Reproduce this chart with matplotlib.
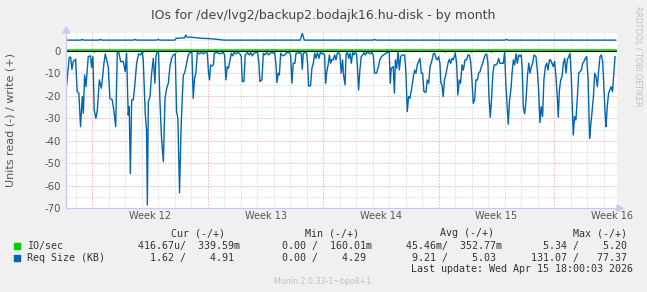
import matplotlib
matplotlib.use('Agg')
import matplotlib.pyplot as plt
from matplotlib.patches import Rectangle, Polygon

plt.rcParams['axes.unicode_minus'] = False

# x in days since the start of week 12 (Monday 00:00)
read_day = [
    -1.55, -1.39, -1.31, -1.23, -1.15, -1.01, -0.91, -0.81, -0.71, -0.60,
    -0.54, -0.46, -0.38, -0.24, -0.10, -0.04, 0.04, 0.12, 0.22, 0.31,
    0.43, 0.55, 0.63, 0.71, 0.79, 0.87, 0.97, 1.07, 1.21, 1.32,
    1.42, 1.52, 1.60, 1.72, 1.88, 2.00, 2.08, 2.18, 2.24, 2.31,
    2.39, 2.49, 2.59, 2.69, 2.81, 2.93, 3.03, 3.09, 3.21, 3.29,
    3.34, 3.40, 3.50, 3.60, 3.70, 3.80, 3.86, 3.94, 4.02, 4.10,
    4.20, 4.31, 4.41, 4.51, 4.61, 4.71, 4.81, 4.91,
    5.03, 5.11, 5.19, 5.29, 5.38, 5.46, 5.52, 5.60, 5.72, 5.82,
    5.92, 6.04, 6.12, 6.20, 6.28, 6.37, 6.49, 6.63, 6.73, 6.81,
    6.89, 6.97, 7.05, 7.11, 7.17, 7.25, 7.34, 7.40, 7.54, 7.74,
    7.94, 8.02, 8.10, 8.18, 8.26, 8.35, 8.43, 8.51, 8.61, 8.71,
    8.83, 8.95, 9.03, 9.09, 9.19, 9.27, 9.40, 9.52, 9.60, 9.70,
    9.80, 9.92, 10.02, 10.10, 10.16, 10.28, 10.37, 10.47, 10.57, 10.69,
    10.77, 10.87, 10.97, 11.05, 11.13, 11.19, 11.27, 11.34, 11.42, 11.54,
    11.68,
    11.78, 11.94, 12.02, 12.10, 12.18, 12.28, 12.35, 12.49, 12.59, 12.67,
    12.73, 12.79, 12.89, 12.99, 13.05, 13.11, 13.23, 13.31, 13.40, 13.48,
    13.56, 13.64, 13.74, 13.82, 13.92, 14.00, 14.08, 14.14, 14.20, 14.31,
    14.37, 14.45, 14.53, 14.61, 14.69, 14.77, 14.85, 14.93, 15.01, 15.09,
    15.17, 15.23, 15.32, 15.38, 15.46, 15.54, 15.62, 15.70, 15.78, 15.86,
    15.94, 16.02, 16.08, 16.14, 16.22, 16.30, 16.39, 16.47, 16.55, 16.63,
    16.73, 16.83, 16.95, 17.03, 17.11, 17.23, 17.34, 17.44, 17.54, 17.64,
    17.76, 17.88, 18.00, 18.06, 18.12, 18.24, 18.31,
    18.37, 18.45, 18.53, 18.61, 18.69, 18.79, 18.93, 19.01, 19.09, 19.17,
    19.25, 19.36, 19.46, 19.54, 19.62, 19.70, 19.78, 19.86, 19.94, 20.02,
    20.10, 20.22, 20.30, 20.39, 20.47, 20.57, 20.67, 20.75, 20.83, 20.91,
    20.99, 21.07, 21.13, 21.19, 21.27, 21.34, 21.40, 21.48, 21.56, 21.64,
    21.72, 21.80, 21.88, 22.00, 22.08, 22.16, 22.24, 22.32, 22.41, 22.49,
    22.59, 22.69, 22.77, 22.85, 22.93, 23.01, 23.09, 23.17, 23.25, 23.34,
    23.42, 23.50, 23.58, 23.66, 23.74, 23.82, 23.90, 23.98, 24.04, 24.12,
    24.20, 24.28, 24.36, 24.47, 24.55, 24.63, 24.71, 24.91,
    24.99, 25.07, 25.15, 25.21, 25.29, 25.38, 25.44, 25.52, 25.60, 25.68,
    25.76, 25.84, 25.92, 26.00, 26.06, 26.12, 26.20, 26.28, 26.37, 26.45,
    26.53, 26.61, 26.69, 26.77, 26.89, 26.97, 27.05, 27.13, 27.21, 27.29,
    27.37, 27.46, 27.54, 27.62, 27.70, 27.78, 27.86, 27.94, 28.02, 28.10,
    28.18, 28.24, 28.31, 28.39, 28.47, 28.55, 28.63, 28.71, 28.79, 28.87,
    28.95, 29.03, 29.09, 29.15, 29.23, 29.31, 29.40, 29.48, 29.56, 29.64,
    29.72, 29.80, 29.88, 29.96, 30.05, 30.10, 30.14, 30.20, 30.28, 30.37,
    30.45, 30.53, 30.61, 30.69, 30.77, 30.85, 30.93, 31.01, 31.09, 31.13,
    31.21, 31.29, 31.37, 31.45, 31.53, 31.62, 31.68,
]
# Req Size read (drawn negative), KB
read_kb = [
    -15.0, -2.8, -2.8, -8.2, -4.7, -3.7, -18.1, -18.8, -33.7, -20.3,
    -27.7, -10.7, -15.9, -2.5, -2.2, -7.3, -2.5, -26.3, -30.0, -26.3,
    -12.9, -16.6, -11.4, -5.5, -1.3, -4.0, -7.0, -21.1, -21.8, -27.0,
    -33.7, -0.7, -0.3, -4.7, -4.7, -9.2, -1.0, -28.5, -24.8, -54.5,
    -21.8, -21.8, -14.4, -5.5, -1.3, -1.8, -0.3, -4.0, -27.7, -35.2,
    -68.5, -22.6, -20.3, -9.9, -3.3, -14.4, -2.5, -0.3, -1.0, -21.8,
    -38.9, -49.3, -21.1, -16.6, -14.4, -7.0, -3.3, -1.8,
    -1.3, -27.0, -30.0, -63.1, -35.2, -20.3, -10.7, -9.9, -5.5, -1.8,
    -0.7, -0.7, -21.1, -12.2, -9.9, -0.7, -1.3, -0.7, -1.3, -1.0,
    -0.3, -1.0, -9.9, -12.9, -6.2, -6.7, -6.2, -1.0, -0.7, -1.3,
    -0.7, -1.8, -12.9, -7.0, -7.7, -4.0, -1.0, -2.2, -0.7, -1.3,
    -0.7, -1.3, -2.5, -13.6, -13.6, -1.8, -0.7, -1.8, -0.7, -2.2,
    -1.0, -0.7, -0.7, -5.5, -13.6, -12.9, -1.0, -1.8, -0.7, -1.8,
    -1.0, -0.7, -1.0, -0.7, -5.5, -14.1, -9.9, -10.7, -1.0, -2.2,
    -1.8,
    -0.7, -0.7, -1.8, -14.4, -5.5, -5.5, -1.0, -1.0, -0.7, -1.3,
    -8.2, -1.0, -0.7, -1.0, -5.5, -15.6, -15.6, -7.7, -5.5, -1.0,
    -3.3, -0.7, -3.3, -0.7, -1.3, -1.0, -1.8, -14.4, -9.9, -5.5,
    -1.8, -5.5, -3.7, -4.0, -1.8, -4.0, -1.0, -0.7, -1.8, -9.9,
    -4.0, -10.7, -15.1, -1.3, -0.7, -3.3, -1.0, -5.5, -0.7, -1.8,
    -0.7, -1.3, -8.5, -17.4, -8.5, -2.5, -1.8, -0.7, -1.8, -0.7,
    -0.7, -1.3, -0.7, -1.8, -9.9, -9.9, -7.0, -3.7, -2.5, -1.8,
    -1.3, -0.7, -0.7, -14.4, -7.7, -7.0, -18.8,
    -4.0, -7.7, -0.3, -8.5, -2.5, -1.8, -1.8, -9.9, -27.0, -20.3,
    -21.1, -16.6, -11.4, -8.5, -9.9, -6.2, -4.7, -3.3, -9.9, -9.9,
    -18.1, -18.5, -12.9, -14.4, -7.0, -4.7, -1.3, -1.0, -3.3, -4.0,
    -2.5, -5.5, -14.4, -15.1, -20.3, -12.9, -11.4, -8.5, -5.5, -3.7,
    -5.5, -3.3, -4.0, -1.0, -5.5, -19.6, -12.9, -14.4, -6.2, -8.5,
    -4.0, -4.0, -1.8, -1.8, -4.7, -12.9, -23.3, -21.8, -12.9, -12.9,
    -9.9, -9.2, -7.0, -5.5, -3.3, -1.8, -1.3, -5.5, -20.3, -29.5,
    -21.1, -9.9, -6.2, -6.2, -5.5, -3.3, -5.5, -5.5,
    -0.7, -15.9, -25.5, -32.6, -21.8, -16.6, -9.9, -4.0, -6.2, -1.3,
    -5.5, -1.8, -2.5, -1.8, -8.5, -24.8, -28.0, -22.6, -11.4, -5.5,
    -9.9, -7.0, -5.5, -1.8, -2.5, -8.5, -17.4, -31.9, -24.8, -29.2,
    -12.9, -7.0, -5.5, -8.5, -4.0, -4.0, -5.5, -7.0, -4.7, -11.4,
    -20.3, -29.5, -17.4, -12.9, -11.4, -5.5, -3.3, -9.9, -3.7, -2.8,
    -1.0, -11.4, -24.8, -37.4, -29.2, -30.7, -20.3, -9.9, -9.2, -8.5,
    -5.5, -4.7, -3.3, -2.5, -12.9, -27.7, -38.9, -33.7, -27.7, -20.3,
    -9.9, -11.4, -15.9, -8.5, -2.5, -1.8, -4.7, -17.4, -29.2, -33.7,
    -24.8, -18.8, -17.4, -15.9, -18.1, -8.5, -2.5,
]

# Req Size write (positive), KB
write_day = [-1.6, -0.7, -0.6, -0.5, 0.4, 0.5, 0.6, 2.5, 2.6, 2.7, 3.9, 4.0, 4.1,
             5.0, 5.1, 5.6, 5.66, 5.75, 6.0, 6.6, 7.0, 7.5, 8.0, 12.6, 12.73, 12.85,
             17.0, 17.1, 17.2, 25.0, 25.1, 25.2, 31.72]
write_kb = [4.8, 4.8, 5.1, 4.8, 4.8, 5.1, 4.8, 4.8, 5.1, 4.8, 4.8, 5.1, 4.8,
            4.8, 5.6, 5.8, 7.1, 6.1, 6.1, 5.6, 5.5, 5.2, 4.8, 4.8, 7.8, 4.8,
            4.8, 5.1, 4.8, 4.8, 5.1, 4.8, 4.8]

# IO/sec, read (negative) and write
io_day = [-1.6, 0.08, 0.12, 0.16, 3.05, 3.09, 3.13, 5.06, 5.10, 5.14,
          21.36, 21.40, 21.44, 21.96, 22.00, 22.04, 22.96, 23.00, 23.04,
          24.16, 24.20, 24.24, 31.72]
io_read = [-0.05, -0.05, -0.6, -0.05, -0.05, -0.6, -0.05, -0.05, -0.6, -0.05,
           -0.05, -0.6, -0.05, -0.05, -0.6, -0.05, -0.05, -0.6, -0.05,
           -0.05, -0.6, -0.05, -0.05]
io_write_day = [-1.6, 31.72]
io_write = [0.35, 0.35]

week_labels = ['Week 12', 'Week 13', 'Week 14', 'Week 15', 'Week 16']
week_mid = [3.5, 10.5, 17.5, 24.5, 31.5]
week_start = [0, 7, 14, 21, 28]

legend_rows = ['IO/sec', 'Req Size (KB)']
legend_colors = ['#00cc00', '#0066b3']
stat_heads = ['Cur (-/+)', 'Min (-/+)', 'Avg (-/+)', 'Max (-/+)']
io_stats = [('416.67u', '339.59m'), ('0.00', '160.01m'), ('45.46m', '352.77m'), ('5.34', '5.20')]
rs_stats = [('1.62', '4.91'), ('0.00', '4.29'), ('9.21', '5.03'), ('131.07', '77.37')]

W, H = 647, 292
def fx(px):
    return px / W
def fy(py):
    return 1 - py / H

fig = plt.figure(figsize=(W / 100, H / 100), dpi=100, facecolor='#f0f0f0')
ax = fig.add_axes([fx(66), fy(208.3), 551 / W, 175.6 / H])
ax.set_facecolor('white')
ax.set_xlim(-1.59, 31.8)
ax.set_ylim(-70, 8.1)

# grid
dot = (0, (1, 2))
for d in range(-1, 32):
    if d not in week_start:
        ax.axvline(d, color='#cccccc', lw=0.72, ls=dot, zorder=1)
for d in week_start:
    ax.axvline(d, color='#f09090', lw=0.72, ls=dot, zorder=1.5)
for v in range(-65, 10, 10):
    ax.axhline(v, color='#cccccc', lw=0.72, ls=dot, zorder=1)
for v in range(-60, 1, 10):
    ax.axhline(v, color='#f09090', lw=0.72, ls=dot, zorder=1.5)

ax.plot(read_day, read_kb, color='#0066b3', lw=1.0, zorder=3)
ax.plot(write_day, write_kb, color='#0066b3', lw=1.0, zorder=3)
ax.plot(io_day, io_read, color='#00cc00', lw=1.1, zorder=4)
ax.plot(io_write_day, io_write, color='#00cc00', lw=1.1, zorder=4)
ax.axhline(0, color='black', lw=0.7, zorder=5)

ax.set_yticks(range(-70, 1, 10))
ax.set_yticklabels([str(v) for v in range(-70, 1, 10)])
ax.set_xticks(week_mid)
ax.set_xticklabels(week_labels)
ax.tick_params(axis='y', length=0, pad=3.6, labelsize=7.3, labelcolor='#555555')
ax.tick_params(axis='x', length=0, pad=2, labelsize=7, labelcolor='#555555')

for s in ['top', 'right']:
    ax.spines[s].set_visible(False)
axis_col = '#c8c8f4'
ax.spines['left'].set_color(axis_col)
ax.spines['bottom'].set_color(axis_col)
ax.spines['left'].set_linewidth(0.8)
ax.spines['bottom'].set_linewidth(0.8)
# axis extensions and arrows
fig.add_artist(plt.Line2D([fx(66), fx(66)], [fy(208.3), fy(30)], color=axis_col, lw=0.8))
fig.add_artist(plt.Line2D([fx(66), fx(619)], [fy(208.3), fy(208.3)], color=axis_col, lw=0.8))
fig.add_artist(Polygon([[fx(63), fy(33)], [fx(69.5), fy(33)], [fx(66.2), fy(27)]],
                       closed=True, color=axis_col, transform=fig.transFigure))
fig.add_artist(Polygon([[fx(617), fy(205)], [fx(617), fy(211.5)], [fx(623), fy(208.3)]],
                       closed=True, color=axis_col, transform=fig.transFigure))

fig.text(fx(323), fy(15), 'IOs for /dev/lvg2/backup2.bodajk16.hu-disk - by month',
         ha='center', va='center', fontsize=9, color='#444444')
fig.text(fx(11), fy(120), 'Units read (-) / write (+)', rotation=90,
         ha='center', va='center', fontsize=8, color='#555555')
fig.text(fx(638.3), fy(56), 'RRDTOOL / TOBI OETIKER', rotation=270,
         ha='center', va='center', fontsize=5.7, color='#c0c0c0')

mono = 'DejaVu Sans Mono'
tc = '#333333'
head_x = [171, 305, 440, 573]
col_x = [137.7, 270.3, 400.3, 530.7]
for hx, h in zip(head_x, stat_heads):
    fig.text(fx(hx), fy(233.3), h, family=mono, fontsize=7.2, color=tc, va='center')


def fmt(pair):
    out = ''
    for i, s in enumerate(pair):
        if s[-1].isalpha():
            num, unit = s[:-1], s[-1]
        else:
            num, unit = s, ' '
        out += (f'{num:>6}' if i == 0 else f'{num:>8}') + unit
        if i == 0:
            out += '/'
    return out


for row, (name, col, stats) in enumerate(zip(legend_rows, legend_colors, [io_stats, rs_stats])):
    y = 245.7 + 12 * row
    fig.add_artist(Rectangle((fx(14), fy(y + 2.9)), 6 / W, 6 / H, color=col,
                             transform=fig.transFigure))
    fig.text(fx(26.7), fy(y), name, family=mono, fontsize=7.2, color=tc, va='center')
    for cx, pair in zip(col_x, stats):
        fig.text(fx(cx), fy(y), fmt(pair), family=mono, fontsize=7.2, color=tc, va='center')

fig.text(fx(633.3), fy(269.3), 'Last update: Wed Apr 15 18:00:03 2026', family=mono,
         fontsize=7.2, color=tc, va='center', ha='right')
fig.text(fx(323), fy(281.7), 'Munin 2.0.33-1~bpo8+1', fontsize=5.7, color='#c0c0c0',
         ha='center', va='center')

fig.savefig('out.png', dpi=100, facecolor=fig.get_facecolor())
